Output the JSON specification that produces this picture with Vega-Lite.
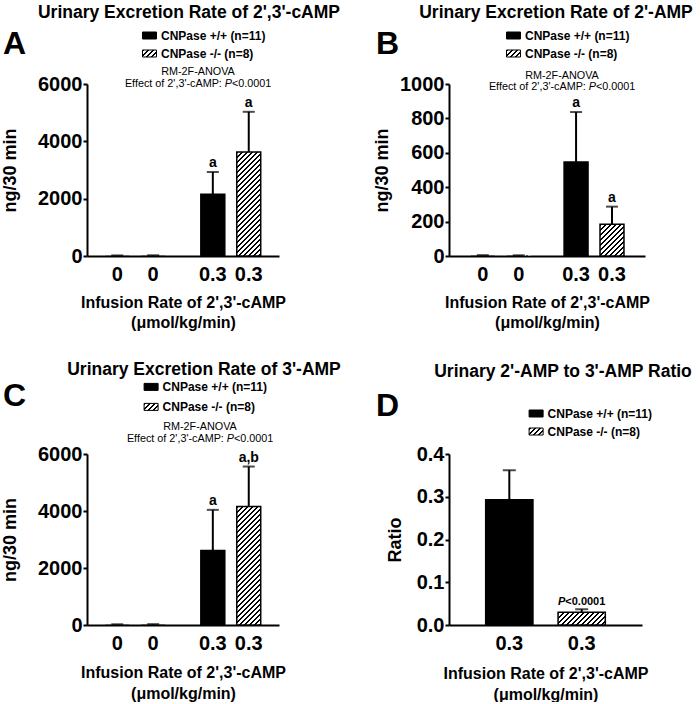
{
"$schema": "https://vega.github.io/schema/vega-lite/v6.json",
"padding": {"left": 1, "top": 3, "right": 2, "bottom": 0},
"columns": 2,
"bounds": "flush",
"spacing": {"row": 198, "column": 170},
"resolve": {"scale": {"fill": "independent", "strokeWidth": "independent"}, "legend": {"fill": "independent"}},
"concat": [
{
 "width": 192, "height": 172,
 "title": {"text": "Urinary Excretion Rate of 2',3'-cAMP", "dx": 6, "offset": 7},
 "data": {"values": [
  {"dose": "0", "geno": "CNPase +/+ (n=11)", "mean": 8, "upper": 20, "sig": ""},
  {"dose": "0", "geno": "CNPase -/- (n=8)", "mean": 10, "upper": 25, "sig": ""},
  {"dose": "0.3", "geno": "CNPase +/+ (n=11)", "mean": 2150, "upper": 2930, "sig": "a"},
  {"dose": "0.3", "geno": "CNPase -/- (n=8)", "mean": 3630, "upper": 5030, "sig": "a"}
 ]},
 "layer": [
  {"mark": {"type": "bar", "stroke": "black"},
   "encoding": {
    "x": {"field": "dose", "type": "nominal", "sort": null, "scale": {"paddingInner": 0.248, "paddingOuter": 0.1285}, "axis": {"labels": false, "ticks": false, "title": ["Infusion Rate of 2',3'-cAMP", "(μmol/kg/min)"], "titlePadding": 38}},
    "xOffset": {"field": "geno", "type": "nominal", "sort": null, "scale": {"paddingInner": 0.3333, "paddingOuter": 0.1667}},
    "y": {"field": "mean", "type": "quantitative", "scale": {"domain": [0, 6000], "nice": false}, "axis": {"values": [0, 2000, 4000, 6000], "tickCount": 10, "format": "d", "labelOverlap": false, "title": "ng/30 min", "titlePadding": 18}},
    "fill": {"condition": {"test": "datum.geno === 'CNPase -/- (n=8)'", "value": {"gradient":"linear","x1":0,"y1":0,"x2":0.3367,"y2":1.4599,"stops":[
{"offset":0,"color":"#000"},{"offset":0.0125,"color":"#000"},{"offset":0.0125,"color":"#fff"},{"offset":0.03125,"color":"#fff"},
{"offset":0.03125,"color":"#000"},{"offset":0.04375,"color":"#000"},{"offset":0.04375,"color":"#fff"},{"offset":0.0625,"color":"#fff"},
{"offset":0.0625,"color":"#000"},{"offset":0.075,"color":"#000"},{"offset":0.075,"color":"#fff"},{"offset":0.09375,"color":"#fff"},
{"offset":0.09375,"color":"#000"},{"offset":0.10625,"color":"#000"},{"offset":0.10625,"color":"#fff"},{"offset":0.125,"color":"#fff"},
{"offset":0.125,"color":"#000"},{"offset":0.1375,"color":"#000"},{"offset":0.1375,"color":"#fff"},{"offset":0.15625,"color":"#fff"},
{"offset":0.15625,"color":"#000"},{"offset":0.16875,"color":"#000"},{"offset":0.16875,"color":"#fff"},{"offset":0.1875,"color":"#fff"},
{"offset":0.1875,"color":"#000"},{"offset":0.2,"color":"#000"},{"offset":0.2,"color":"#fff"},{"offset":0.21875,"color":"#fff"},
{"offset":0.21875,"color":"#000"},{"offset":0.23125,"color":"#000"},{"offset":0.23125,"color":"#fff"},{"offset":0.25,"color":"#fff"},
{"offset":0.25,"color":"#000"},{"offset":0.2625,"color":"#000"},{"offset":0.2625,"color":"#fff"},{"offset":0.28125,"color":"#fff"},
{"offset":0.28125,"color":"#000"},{"offset":0.29375,"color":"#000"},{"offset":0.29375,"color":"#fff"},{"offset":0.3125,"color":"#fff"},
{"offset":0.3125,"color":"#000"},{"offset":0.325,"color":"#000"},{"offset":0.325,"color":"#fff"},{"offset":0.34375,"color":"#fff"},
{"offset":0.34375,"color":"#000"},{"offset":0.35625,"color":"#000"},{"offset":0.35625,"color":"#fff"},{"offset":0.375,"color":"#fff"},
{"offset":0.375,"color":"#000"},{"offset":0.3875,"color":"#000"},{"offset":0.3875,"color":"#fff"},{"offset":0.40625,"color":"#fff"},
{"offset":0.40625,"color":"#000"},{"offset":0.41875,"color":"#000"},{"offset":0.41875,"color":"#fff"},{"offset":0.4375,"color":"#fff"},
{"offset":0.4375,"color":"#000"},{"offset":0.45,"color":"#000"},{"offset":0.45,"color":"#fff"},{"offset":0.46875,"color":"#fff"},
{"offset":0.46875,"color":"#000"},{"offset":0.48125,"color":"#000"},{"offset":0.48125,"color":"#fff"},{"offset":0.5,"color":"#fff"},
{"offset":0.5,"color":"#000"},{"offset":0.5125,"color":"#000"},{"offset":0.5125,"color":"#fff"},{"offset":0.53125,"color":"#fff"},
{"offset":0.53125,"color":"#000"},{"offset":0.54375,"color":"#000"},{"offset":0.54375,"color":"#fff"},{"offset":0.5625,"color":"#fff"},
{"offset":0.5625,"color":"#000"},{"offset":0.575,"color":"#000"},{"offset":0.575,"color":"#fff"},{"offset":0.59375,"color":"#fff"},
{"offset":0.59375,"color":"#000"},{"offset":0.60625,"color":"#000"},{"offset":0.60625,"color":"#fff"},{"offset":0.625,"color":"#fff"},
{"offset":0.625,"color":"#000"},{"offset":0.6375,"color":"#000"},{"offset":0.6375,"color":"#fff"},{"offset":0.65625,"color":"#fff"},
{"offset":0.65625,"color":"#000"},{"offset":0.66875,"color":"#000"},{"offset":0.66875,"color":"#fff"},{"offset":0.6875,"color":"#fff"},
{"offset":0.6875,"color":"#000"},{"offset":0.7,"color":"#000"},{"offset":0.7,"color":"#fff"},{"offset":0.71875,"color":"#fff"},
{"offset":0.71875,"color":"#000"},{"offset":0.73125,"color":"#000"},{"offset":0.73125,"color":"#fff"},{"offset":0.75,"color":"#fff"},
{"offset":0.75,"color":"#000"},{"offset":0.7625,"color":"#000"},{"offset":0.7625,"color":"#fff"},{"offset":0.78125,"color":"#fff"},
{"offset":0.78125,"color":"#000"},{"offset":0.79375,"color":"#000"},{"offset":0.79375,"color":"#fff"},{"offset":0.8125,"color":"#fff"}
]}},
     "field": "geno", "type": "nominal", "sort": null,
     "scale": {"domain": ["CNPase +/+ (n=11)", "CNPase -/- (n=8)"], "range": ["black", {"expr": "{gradient:'linear',x1:0,y1:0,x2:9.143,y2:4.571,stops:[{offset:0,color:'#000'},{offset:0.0125,color:'#000'},{offset:0.0125,color:'#fff'},{offset:0.03125,color:'#fff'},{offset:0.03125,color:'#000'},{offset:0.04375,color:'#000'},{offset:0.04375,color:'#fff'},{offset:0.0625,color:'#fff'},{offset:0.0625,color:'#000'},{offset:0.075,color:'#000'},{offset:0.075,color:'#fff'},{offset:0.09375,color:'#fff'},{offset:0.09375,color:'#000'},{offset:0.10625,color:'#000'},{offset:0.10625,color:'#fff'},{offset:0.125,color:'#fff'},{offset:0.125,color:'#000'},{offset:0.1375,color:'#000'},{offset:0.1375,color:'#fff'},{offset:0.15625,color:'#fff'}]}"}]},
     "legend": {"legendX": -84, "legendY": -56, "title": "A", "titleAnchor": "middle", "titleBaseline": "middle", "titlePadding": 115}},
    "strokeWidth": {"condition": {"test": "datum.dose === '0'", "value": 0}, "value": 1.5}
   }},
  {"mark": {"type": "rule", "color": "black", "strokeWidth": 2},
   "encoding": {"x": {"field": "dose", "type": "nominal", "sort": null}, "xOffset": {"field": "geno", "type": "nominal", "sort": null}, "y": {"field": "mean", "type": "quantitative"}, "y2": {"field": "upper"}}},
  {"mark": {"type": "tick", "color": "black", "thickness": 2, "size": 12, "orient": "horizontal"},
   "encoding": {"x": {"field": "dose", "type": "nominal", "sort": null}, "xOffset": {"field": "geno", "type": "nominal", "sort": null}, "y": {"field": "upper", "type": "quantitative"}}},
  {"mark": {"type": "text", "fontSize": 14, "fontWeight": "bold", "baseline": "alphabetic", "dy": -5},
   "encoding": {"x": {"field": "dose", "type": "nominal", "sort": null}, "xOffset": {"field": "geno", "type": "nominal", "sort": null}, "y": {"field": "upper", "type": "quantitative"}, "text": {"field": "sig"}}},
  {"mark": {"type": "text", "fontSize": 20, "fontWeight": "bold", "baseline": "middle", "dy": 19},
   "encoding": {"x": {"field": "dose", "type": "nominal", "sort": null}, "xOffset": {"field": "geno", "type": "nominal", "sort": null}, "y": {"datum": 0}, "text": {"field": "dose"}}},
  {"data": {"values": [{"l1": "RM-2F-ANOVA", "l2": "Effect of 2',3'-cAMP:", "p": "P", "v": "<0.0001"}]},
   "layer": [
    {"mark": {"type": "text", "fontSize": 10.8, "baseline": "middle", "align": "center", "dx": 15, "dy": -12}, "encoding": {"y": {"datum": 6000}, "text": {"field": "l1"}}},
    {"mark": {"type": "text", "fontSize": 10.8, "baseline": "middle", "align": "right", "dx": 38.85, "dy": -0.5}, "encoding": {"y": {"datum": 6000}, "text": {"field": "l2"}}},
    {"mark": {"type": "text", "fontSize": 10.8, "baseline": "middle", "align": "left", "fontStyle": "italic", "dx": 41.85, "dy": -0.5}, "encoding": {"y": {"datum": 6000}, "text": {"field": "p"}}},
    {"mark": {"type": "text", "fontSize": 10.8, "baseline": "middle", "align": "left", "dx": 49.05, "dy": -0.5}, "encoding": {"y": {"datum": 6000}, "text": {"field": "v"}}}
   ]}
 ]
},
{
 "width": 196, "height": 172,
 "title": {"text": "Urinary Excretion Rate of 2'-AMP", "dx": 9, "offset": 7},
 "data": {"values": [
  {"dose": "0", "geno": "CNPase +/+ (n=11)", "mean": 2, "upper": 5, "sig": ""},
  {"dose": "0", "geno": "CNPase -/- (n=8)", "mean": 2, "upper": 4, "sig": ""},
  {"dose": "0.3", "geno": "CNPase +/+ (n=11)", "mean": 546, "upper": 837, "sig": "a"},
  {"dose": "0.3", "geno": "CNPase -/- (n=8)", "mean": 184, "upper": 287, "sig": "a"}
 ]},
 "layer": [
  {"mark": {"type": "bar", "stroke": "black"},
   "encoding": {
    "x": {"field": "dose", "type": "nominal", "sort": null, "scale": {"paddingInner": 0.238, "paddingOuter": 0.17}, "axis": {"labels": false, "ticks": false, "title": ["Infusion Rate of 2',3'-cAMP", "(μmol/kg/min)"], "titlePadding": 38}},
    "xOffset": {"field": "geno", "type": "nominal", "sort": null, "scale": {"paddingInner": 0.3333, "paddingOuter": 0.1667}},
    "y": {"field": "mean", "type": "quantitative", "scale": {"domain": [0, 1000], "nice": false}, "axis": {"values": [0, 200, 400, 600, 800, 1000], "tickCount": 10, "format": "d", "labelOverlap": false, "title": "ng/30 min", "titlePadding": 8}},
    "fill": {"condition": {"test": "datum.geno === 'CNPase -/- (n=8)'", "value": {"gradient":"linear","x1":0,"y1":0,"x2":2.4255,"y2":3.2391,"stops":[
{"offset":0,"color":"#000"},{"offset":0.0125,"color":"#000"},{"offset":0.0125,"color":"#fff"},{"offset":0.03125,"color":"#fff"},
{"offset":0.03125,"color":"#000"},{"offset":0.04375,"color":"#000"},{"offset":0.04375,"color":"#fff"},{"offset":0.0625,"color":"#fff"},
{"offset":0.0625,"color":"#000"},{"offset":0.075,"color":"#000"},{"offset":0.075,"color":"#fff"},{"offset":0.09375,"color":"#fff"},
{"offset":0.09375,"color":"#000"},{"offset":0.10625,"color":"#000"},{"offset":0.10625,"color":"#fff"},{"offset":0.125,"color":"#fff"},
{"offset":0.125,"color":"#000"},{"offset":0.1375,"color":"#000"},{"offset":0.1375,"color":"#fff"},{"offset":0.15625,"color":"#fff"},
{"offset":0.15625,"color":"#000"},{"offset":0.16875,"color":"#000"},{"offset":0.16875,"color":"#fff"},{"offset":0.1875,"color":"#fff"},
{"offset":0.1875,"color":"#000"},{"offset":0.2,"color":"#000"},{"offset":0.2,"color":"#fff"},{"offset":0.21875,"color":"#fff"},
{"offset":0.21875,"color":"#000"},{"offset":0.23125,"color":"#000"},{"offset":0.23125,"color":"#fff"},{"offset":0.25,"color":"#fff"},
{"offset":0.25,"color":"#000"},{"offset":0.2625,"color":"#000"},{"offset":0.2625,"color":"#fff"},{"offset":0.28125,"color":"#fff"},
{"offset":0.28125,"color":"#000"},{"offset":0.29375,"color":"#000"},{"offset":0.29375,"color":"#fff"},{"offset":0.3125,"color":"#fff"},
{"offset":0.3125,"color":"#000"},{"offset":0.325,"color":"#000"},{"offset":0.325,"color":"#fff"},{"offset":0.34375,"color":"#fff"},
{"offset":0.34375,"color":"#000"},{"offset":0.35625,"color":"#000"},{"offset":0.35625,"color":"#fff"},{"offset":0.375,"color":"#fff"}
]}},
     "field": "geno", "type": "nominal", "sort": null,
     "scale": {"domain": ["CNPase +/+ (n=11)", "CNPase -/- (n=8)"], "range": ["black", {"expr": "{gradient:'linear',x1:0,y1:0,x2:9.143,y2:4.571,stops:[{offset:0,color:'#000'},{offset:0.0125,color:'#000'},{offset:0.0125,color:'#fff'},{offset:0.03125,color:'#fff'},{offset:0.03125,color:'#000'},{offset:0.04375,color:'#000'},{offset:0.04375,color:'#fff'},{offset:0.0625,color:'#fff'},{offset:0.0625,color:'#000'},{offset:0.075,color:'#000'},{offset:0.075,color:'#fff'},{offset:0.09375,color:'#fff'},{offset:0.09375,color:'#000'},{offset:0.10625,color:'#000'},{offset:0.10625,color:'#fff'},{offset:0.125,color:'#fff'},{offset:0.125,color:'#000'},{offset:0.1375,color:'#000'},{offset:0.1375,color:'#fff'},{offset:0.15625,color:'#fff'}]}"}]},
     "legend": {"legendX": -73, "legendY": -56, "title": "B", "titleAnchor": "middle", "titleBaseline": "middle", "titlePadding": 106}},
    "strokeWidth": {"condition": {"test": "datum.dose === '0'", "value": 0}, "value": 1.5}
   }},
  {"mark": {"type": "rule", "color": "black", "strokeWidth": 2},
   "encoding": {"x": {"field": "dose", "type": "nominal", "sort": null}, "xOffset": {"field": "geno", "type": "nominal", "sort": null}, "y": {"field": "mean", "type": "quantitative"}, "y2": {"field": "upper"}}},
  {"mark": {"type": "tick", "color": "black", "thickness": 2, "size": 12, "orient": "horizontal"},
   "encoding": {"x": {"field": "dose", "type": "nominal", "sort": null}, "xOffset": {"field": "geno", "type": "nominal", "sort": null}, "y": {"field": "upper", "type": "quantitative"}}},
  {"mark": {"type": "text", "fontSize": 14, "fontWeight": "bold", "baseline": "alphabetic", "dy": -5},
   "encoding": {"x": {"field": "dose", "type": "nominal", "sort": null}, "xOffset": {"field": "geno", "type": "nominal", "sort": null}, "y": {"field": "upper", "type": "quantitative"}, "text": {"field": "sig"}}},
  {"mark": {"type": "text", "fontSize": 20, "fontWeight": "bold", "baseline": "middle", "dy": 19},
   "encoding": {"x": {"field": "dose", "type": "nominal", "sort": null}, "xOffset": {"field": "geno", "type": "nominal", "sort": null}, "y": {"datum": 0}, "text": {"field": "dose"}}},
  {"data": {"values": [{"l1": "RM-2F-ANOVA", "l2": "Effect of 2',3'-cAMP:", "p": "P", "v": "<0.0001"}]},
   "layer": [
    {"mark": {"type": "text", "fontSize": 10.8, "baseline": "middle", "align": "center", "dx": 15, "dy": -8}, "encoding": {"y": {"datum": 1000}, "text": {"field": "l1"}}},
    {"mark": {"type": "text", "fontSize": 10.8, "baseline": "middle", "align": "right", "dx": 38.85, "dy": 3}, "encoding": {"y": {"datum": 1000}, "text": {"field": "l2"}}},
    {"mark": {"type": "text", "fontSize": 10.8, "baseline": "middle", "align": "left", "fontStyle": "italic", "dx": 41.85, "dy": 3}, "encoding": {"y": {"datum": 1000}, "text": {"field": "p"}}},
    {"mark": {"type": "text", "fontSize": 10.8, "baseline": "middle", "align": "left", "dx": 49.05, "dy": 3}, "encoding": {"y": {"datum": 1000}, "text": {"field": "v"}}}
   ]}
 ]
},
{
 "width": 192, "height": 171,
 "title": {"text": "Urinary Excretion Rate of 3'-AMP", "dx": 21, "offset": 1},
 "data": {"values": [
  {"dose": "0", "geno": "CNPase +/+ (n=11)", "mean": 10, "upper": 25, "sig": ""},
  {"dose": "0", "geno": "CNPase -/- (n=8)", "mean": 12, "upper": 30, "sig": ""},
  {"dose": "0.3", "geno": "CNPase +/+ (n=11)", "mean": 2610, "upper": 4040, "sig": "a"},
  {"dose": "0.3", "geno": "CNPase -/- (n=8)", "mean": 4160, "upper": 5560, "sig": "a,b"}
 ]},
 "layer": [
  {"mark": {"type": "bar", "stroke": "black"},
   "encoding": {
    "x": {"field": "dose", "type": "nominal", "sort": null, "scale": {"paddingInner": 0.248, "paddingOuter": 0.1285}, "axis": {"labels": false, "ticks": false, "title": ["Infusion Rate of 2',3'-cAMP", "(μmol/kg/min)"], "titlePadding": 39, "titleLineHeight": 21}},
    "xOffset": {"field": "geno", "type": "nominal", "sort": null, "scale": {"paddingInner": 0.3333, "paddingOuter": 0.1667}},
    "y": {"field": "mean", "type": "quantitative", "scale": {"domain": [0, 6000], "nice": false}, "axis": {"values": [0, 2000, 4000, 6000], "tickCount": 10, "format": "d", "labelOverlap": false, "title": "ng/30 min", "titlePadding": 18}},
    "fill": {"condition": {"test": "datum.geno === 'CNPase -/- (n=8)'", "value": {"gradient":"linear","x1":0,"y1":0,"x2":0.2624,"y2":1.2964,"stops":[
{"offset":0,"color":"#000"},{"offset":0.0125,"color":"#000"},{"offset":0.0125,"color":"#fff"},{"offset":0.03125,"color":"#fff"},
{"offset":0.03125,"color":"#000"},{"offset":0.04375,"color":"#000"},{"offset":0.04375,"color":"#fff"},{"offset":0.0625,"color":"#fff"},
{"offset":0.0625,"color":"#000"},{"offset":0.075,"color":"#000"},{"offset":0.075,"color":"#fff"},{"offset":0.09375,"color":"#fff"},
{"offset":0.09375,"color":"#000"},{"offset":0.10625,"color":"#000"},{"offset":0.10625,"color":"#fff"},{"offset":0.125,"color":"#fff"},
{"offset":0.125,"color":"#000"},{"offset":0.1375,"color":"#000"},{"offset":0.1375,"color":"#fff"},{"offset":0.15625,"color":"#fff"},
{"offset":0.15625,"color":"#000"},{"offset":0.16875,"color":"#000"},{"offset":0.16875,"color":"#fff"},{"offset":0.1875,"color":"#fff"},
{"offset":0.1875,"color":"#000"},{"offset":0.2,"color":"#000"},{"offset":0.2,"color":"#fff"},{"offset":0.21875,"color":"#fff"},
{"offset":0.21875,"color":"#000"},{"offset":0.23125,"color":"#000"},{"offset":0.23125,"color":"#fff"},{"offset":0.25,"color":"#fff"},
{"offset":0.25,"color":"#000"},{"offset":0.2625,"color":"#000"},{"offset":0.2625,"color":"#fff"},{"offset":0.28125,"color":"#fff"},
{"offset":0.28125,"color":"#000"},{"offset":0.29375,"color":"#000"},{"offset":0.29375,"color":"#fff"},{"offset":0.3125,"color":"#fff"},
{"offset":0.3125,"color":"#000"},{"offset":0.325,"color":"#000"},{"offset":0.325,"color":"#fff"},{"offset":0.34375,"color":"#fff"},
{"offset":0.34375,"color":"#000"},{"offset":0.35625,"color":"#000"},{"offset":0.35625,"color":"#fff"},{"offset":0.375,"color":"#fff"},
{"offset":0.375,"color":"#000"},{"offset":0.3875,"color":"#000"},{"offset":0.3875,"color":"#fff"},{"offset":0.40625,"color":"#fff"},
{"offset":0.40625,"color":"#000"},{"offset":0.41875,"color":"#000"},{"offset":0.41875,"color":"#fff"},{"offset":0.4375,"color":"#fff"},
{"offset":0.4375,"color":"#000"},{"offset":0.45,"color":"#000"},{"offset":0.45,"color":"#fff"},{"offset":0.46875,"color":"#fff"},
{"offset":0.46875,"color":"#000"},{"offset":0.48125,"color":"#000"},{"offset":0.48125,"color":"#fff"},{"offset":0.5,"color":"#fff"},
{"offset":0.5,"color":"#000"},{"offset":0.5125,"color":"#000"},{"offset":0.5125,"color":"#fff"},{"offset":0.53125,"color":"#fff"},
{"offset":0.53125,"color":"#000"},{"offset":0.54375,"color":"#000"},{"offset":0.54375,"color":"#fff"},{"offset":0.5625,"color":"#fff"},
{"offset":0.5625,"color":"#000"},{"offset":0.575,"color":"#000"},{"offset":0.575,"color":"#fff"},{"offset":0.59375,"color":"#fff"},
{"offset":0.59375,"color":"#000"},{"offset":0.60625,"color":"#000"},{"offset":0.60625,"color":"#fff"},{"offset":0.625,"color":"#fff"},
{"offset":0.625,"color":"#000"},{"offset":0.6375,"color":"#000"},{"offset":0.6375,"color":"#fff"},{"offset":0.65625,"color":"#fff"},
{"offset":0.65625,"color":"#000"},{"offset":0.66875,"color":"#000"},{"offset":0.66875,"color":"#fff"},{"offset":0.6875,"color":"#fff"},
{"offset":0.6875,"color":"#000"},{"offset":0.7,"color":"#000"},{"offset":0.7,"color":"#fff"},{"offset":0.71875,"color":"#fff"},
{"offset":0.71875,"color":"#000"},{"offset":0.73125,"color":"#000"},{"offset":0.73125,"color":"#fff"},{"offset":0.75,"color":"#fff"},
{"offset":0.75,"color":"#000"},{"offset":0.7625,"color":"#000"},{"offset":0.7625,"color":"#fff"},{"offset":0.78125,"color":"#fff"},
{"offset":0.78125,"color":"#000"},{"offset":0.79375,"color":"#000"},{"offset":0.79375,"color":"#fff"},{"offset":0.8125,"color":"#fff"},
{"offset":0.8125,"color":"#000"},{"offset":0.825,"color":"#000"},{"offset":0.825,"color":"#fff"},{"offset":0.84375,"color":"#fff"},
{"offset":0.84375,"color":"#000"},{"offset":0.85625,"color":"#000"},{"offset":0.85625,"color":"#fff"},{"offset":0.875,"color":"#fff"},
{"offset":0.875,"color":"#000"},{"offset":0.8875,"color":"#000"},{"offset":0.8875,"color":"#fff"},{"offset":0.90625,"color":"#fff"}
]}},
     "field": "geno", "type": "nominal", "sort": null,
     "scale": {"domain": ["CNPase +/+ (n=11)", "CNPase -/- (n=8)"], "range": ["black", {"expr": "{gradient:'linear',x1:0,y1:0,x2:9.143,y2:4.571,stops:[{offset:0,color:'#000'},{offset:0.0125,color:'#000'},{offset:0.0125,color:'#fff'},{offset:0.03125,color:'#fff'},{offset:0.03125,color:'#000'},{offset:0.04375,color:'#000'},{offset:0.04375,color:'#fff'},{offset:0.0625,color:'#fff'},{offset:0.0625,color:'#000'},{offset:0.075,color:'#000'},{offset:0.075,color:'#fff'},{offset:0.09375,color:'#fff'},{offset:0.09375,color:'#000'},{offset:0.10625,color:'#000'},{offset:0.10625,color:'#fff'},{offset:0.125,color:'#fff'},{offset:0.125,color:'#000'},{offset:0.1375,color:'#000'},{offset:0.1375,color:'#fff'},{offset:0.15625,color:'#fff'}]}"}]},
     "legend": {"legendX": -84, "legendY": -74.6, "title": "C", "titleAnchor": "middle", "titleBaseline": "middle", "titlePadding": 116.6, "rowPadding": 6}},
    "strokeWidth": {"condition": {"test": "datum.dose === '0'", "value": 0}, "value": 1.5}
   }},
  {"mark": {"type": "rule", "color": "black", "strokeWidth": 2},
   "encoding": {"x": {"field": "dose", "type": "nominal", "sort": null}, "xOffset": {"field": "geno", "type": "nominal", "sort": null}, "y": {"field": "mean", "type": "quantitative"}, "y2": {"field": "upper"}}},
  {"mark": {"type": "tick", "color": "black", "thickness": 2, "size": 12, "orient": "horizontal"},
   "encoding": {"x": {"field": "dose", "type": "nominal", "sort": null}, "xOffset": {"field": "geno", "type": "nominal", "sort": null}, "y": {"field": "upper", "type": "quantitative"}}},
  {"mark": {"type": "text", "fontSize": 14, "fontWeight": "bold", "baseline": "alphabetic", "dy": -5},
   "encoding": {"x": {"field": "dose", "type": "nominal", "sort": null}, "xOffset": {"field": "geno", "type": "nominal", "sort": null}, "y": {"field": "upper", "type": "quantitative"}, "text": {"field": "sig"}}},
  {"mark": {"type": "text", "fontSize": 20, "fontWeight": "bold", "baseline": "middle", "dy": 19},
   "encoding": {"x": {"field": "dose", "type": "nominal", "sort": null}, "xOffset": {"field": "geno", "type": "nominal", "sort": null}, "y": {"datum": 0}, "text": {"field": "dose"}}},
  {"data": {"values": [{"l1": "RM-2F-ANOVA", "l2": "Effect of 2',3'-cAMP:", "p": "P", "v": "<0.0001"}]},
   "layer": [
    {"mark": {"type": "text", "fontSize": 10.8, "baseline": "middle", "align": "center", "dx": 17, "dy": -27}, "encoding": {"y": {"datum": 6000}, "text": {"field": "l1"}}},
    {"mark": {"type": "text", "fontSize": 10.8, "baseline": "middle", "align": "right", "dx": 40.85, "dy": -15}, "encoding": {"y": {"datum": 6000}, "text": {"field": "l2"}}},
    {"mark": {"type": "text", "fontSize": 10.8, "baseline": "middle", "align": "left", "fontStyle": "italic", "dx": 43.85, "dy": -15}, "encoding": {"y": {"datum": 6000}, "text": {"field": "p"}}},
    {"mark": {"type": "text", "fontSize": 10.8, "baseline": "middle", "align": "left", "dx": 51.05, "dy": -15}, "encoding": {"y": {"datum": 6000}, "text": {"field": "v"}}}
   ]}
 ]
},
{
 "width": 193, "height": 171,
 "title": {"text": "Urinary 2'-AMP to 3'-AMP Ratio", "dx": 17.5, "offset": 26},
 "data": {"values": [
  {"dose": "0.3", "geno": "CNPase +/+ (n=11)", "mean": 0.293, "upper": 0.362, "p": "", "v": ""},
  {"dose": "0.3", "geno": "CNPase -/- (n=8)", "mean": 0.030, "upper": 0.037, "p": "P", "v": "<0.0001"}
 ]},
 "layer": [
  {"mark": {"type": "bar", "stroke": "black", "strokeWidth": 1.5},
   "encoding": {
    "x": {"field": "geno", "type": "nominal", "sort": null, "scale": {"paddingInner": 0.347, "paddingOuter": 0.507}, "axis": {"labelExpr": "'0.3'", "labelAngle": 0, "ticks": false, "labelPadding": 8, "title": ["Infusion Rate of 2',3'-cAMP", "(μmol/kg/min)"], "titlePadding": 12, "titleLineHeight": 21}},
    "y": {"field": "mean", "type": "quantitative", "scale": {"domain": [0, 0.4], "nice": false}, "axis": {"values": [0, 0.1, 0.2, 0.3, 0.4], "tickCount": 10, "format": ".1f", "labelOverlap": false, "title": "Ratio", "titlePadding": 12}},
    "fill": {"condition": {"test": "datum.geno === 'CNPase -/- (n=8)'", "value": {"gradient":"linear","x1":0,"y1":0,"x2":3.1682,"y2":0.8648,"stops":[
{"offset":0,"color":"#000"},{"offset":0.0125,"color":"#000"},{"offset":0.0125,"color":"#fff"},{"offset":0.03125,"color":"#fff"},
{"offset":0.03125,"color":"#000"},{"offset":0.04375,"color":"#000"},{"offset":0.04375,"color":"#fff"},{"offset":0.0625,"color":"#fff"},
{"offset":0.0625,"color":"#000"},{"offset":0.075,"color":"#000"},{"offset":0.075,"color":"#fff"},{"offset":0.09375,"color":"#fff"},
{"offset":0.09375,"color":"#000"},{"offset":0.10625,"color":"#000"},{"offset":0.10625,"color":"#fff"},{"offset":0.125,"color":"#fff"},
{"offset":0.125,"color":"#000"},{"offset":0.1375,"color":"#000"},{"offset":0.1375,"color":"#fff"},{"offset":0.15625,"color":"#fff"},
{"offset":0.15625,"color":"#000"},{"offset":0.16875,"color":"#000"},{"offset":0.16875,"color":"#fff"},{"offset":0.1875,"color":"#fff"},
{"offset":0.1875,"color":"#000"},{"offset":0.2,"color":"#000"},{"offset":0.2,"color":"#fff"},{"offset":0.21875,"color":"#fff"},
{"offset":0.21875,"color":"#000"},{"offset":0.23125,"color":"#000"},{"offset":0.23125,"color":"#fff"},{"offset":0.25,"color":"#fff"},
{"offset":0.25,"color":"#000"},{"offset":0.2625,"color":"#000"},{"offset":0.2625,"color":"#fff"},{"offset":0.28125,"color":"#fff"},
{"offset":0.28125,"color":"#000"},{"offset":0.29375,"color":"#000"},{"offset":0.29375,"color":"#fff"},{"offset":0.3125,"color":"#fff"},
{"offset":0.3125,"color":"#000"},{"offset":0.325,"color":"#000"},{"offset":0.325,"color":"#fff"},{"offset":0.34375,"color":"#fff"},
{"offset":0.34375,"color":"#000"},{"offset":0.35625,"color":"#000"},{"offset":0.35625,"color":"#fff"},{"offset":0.375,"color":"#fff"},
{"offset":0.375,"color":"#000"},{"offset":0.3875,"color":"#000"},{"offset":0.3875,"color":"#fff"},{"offset":0.40625,"color":"#fff"}
]}},
     "field": "geno", "type": "nominal", "sort": null,
     "scale": {"domain": ["CNPase +/+ (n=11)", "CNPase -/- (n=8)"], "range": ["black", {"expr": "{gradient:'linear',x1:0,y1:0,x2:9.143,y2:4.571,stops:[{offset:0,color:'#000'},{offset:0.0125,color:'#000'},{offset:0.0125,color:'#fff'},{offset:0.03125,color:'#fff'},{offset:0.03125,color:'#000'},{offset:0.04375,color:'#000'},{offset:0.04375,color:'#fff'},{offset:0.0625,color:'#fff'},{offset:0.0625,color:'#000'},{offset:0.075,color:'#000'},{offset:0.075,color:'#fff'},{offset:0.09375,color:'#fff'},{offset:0.09375,color:'#000'},{offset:0.10625,color:'#000'},{offset:0.10625,color:'#fff'},{offset:0.125,color:'#fff'},{offset:0.125,color:'#000'},{offset:0.1375,color:'#000'},{offset:0.1375,color:'#fff'},{offset:0.15625,color:'#fff'}]}"}]},
     "legend": {"legendX": -73, "legendY": -48, "title": "D", "titleAnchor": "start", "titleBaseline": "middle", "titlePadding": 128.6}}
   }},
  {"mark": {"type": "rule", "color": "black", "strokeWidth": 2},
   "encoding": {"x": {"field": "geno", "type": "nominal", "sort": null}, "y": {"field": "mean", "type": "quantitative"}, "y2": {"field": "upper"}}},
  {"mark": {"type": "tick", "color": "black", "thickness": 2, "size": 13, "orient": "horizontal"},
   "encoding": {"x": {"field": "geno", "type": "nominal", "sort": null}, "y": {"field": "upper", "type": "quantitative"}}},
  {"mark": {"type": "text", "fontSize": 11, "fontWeight": "bold", "fontStyle": "italic", "baseline": "alphabetic", "align": "left", "dx": -23.7, "dy": -4},
   "encoding": {"x": {"field": "geno", "type": "nominal", "sort": null}, "y": {"field": "upper", "type": "quantitative"}, "text": {"field": "p"}}},
  {"mark": {"type": "text", "fontSize": 11, "fontWeight": "bold", "baseline": "alphabetic", "align": "left", "dx": -16.4, "dy": -4},
   "encoding": {"x": {"field": "geno", "type": "nominal", "sort": null}, "y": {"field": "upper", "type": "quantitative"}, "text": {"field": "v"}}}
 ]
}
],
"config": {
 "font": "Liberation Sans",
 "view": {"stroke": null},
 "mark": {"color": "black"},
 "axis": {"domainColor": "black", "domainWidth": 2, "tickColor": "black", "tickWidth": 2, "labelColor": "black", "titleColor": "black", "labelFontWeight": "bold", "titleFontWeight": "bold", "grid": false, "labelFontSize": 20},
 "axisY": {"tickSize": 4, "labelPadding": 1, "titleFontSize": 18},
 "axisX": {"titleFontSize": 16, "titleLineHeight": 20},
 "legend": {"orient": "none", "titleOrient": "left", "titleFontSize": 32, "titleFontWeight": "bold", "titleColor": "black", "labelFontSize": 12, "labelFontWeight": "bold", "labelColor": "black", "labelOffset": 4, "rowPadding": 4, "symbolType": "M-1,-0.5H1V0.5H-1Z", "symbolSize": 196, "symbolStrokeColor": "black", "symbolStrokeWidth": 1},
 "title": {"fontSize": 17.5, "fontWeight": "bold", "color": "black", "anchor": "middle", "frame": "group"}
}
}
